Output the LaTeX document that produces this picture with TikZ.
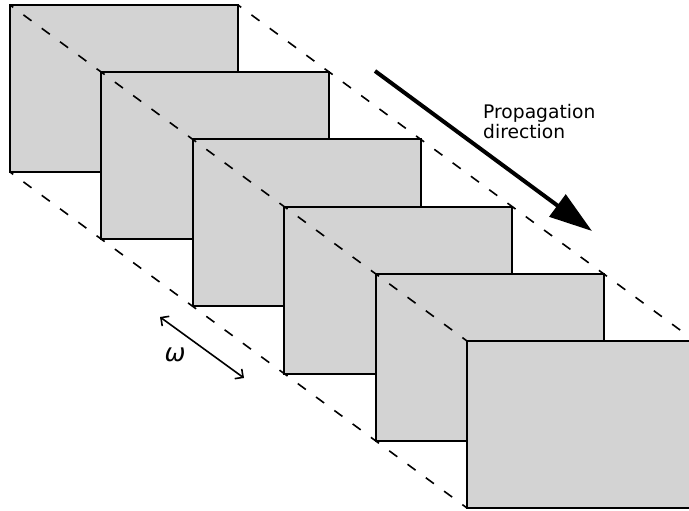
\documentclass[tikz,border=0pt]{standalone}
\usepackage{fontspec}
\setmainfont{DejaVu Sans}
\usetikzlibrary{positioning, calc, arrows.meta}
\definecolor{Dark}{HTML}{000000}
\definecolor{Plane}{HTML}{D3D3D3}
\definecolor{White}{HTML}{FFFFFF}
\tikzset{
    plane/.style={rectangle, draw=Dark, fill=Plane, line width=2pt, minimum width=228pt, minimum height=167pt, inner sep=0pt, outer sep=0pt, anchor=north west},
    guide/.style={draw=Dark, line width=1.6pt, dash pattern=on 10pt off 12.7pt, dash phase=6pt},
    bigarrow/.style={-{Triangle[length=43pt, width=27pt]}, line width=4pt, color=Dark},
    freqarrow/.style={{Straight Barb[length=6pt, width=12pt]}-{Straight Barb[length=6pt, width=12pt]}, line width=1.6pt, color=Dark},
}

\begin{document}
\begin{tikzpicture}[x=1pt, y=-1pt]
        % --- Frame (same size as the page) ---
        \useasboundingbox (0,0) rectangle (689,511);
        \clip (0,0) rectangle (689,511);

        % --- Wave fronts, back to front ---
        \node[plane] (plane1) at (10,5) {};
        \node[plane] (plane2) at (101.4,72.2) {};
        \node[plane] (plane3) at (192.8,139.4) {};
        \node[plane] (plane4) at (284.2,206.6) {};
        \node[plane] (plane5) at (375.6,273.8) {};
        \node[plane] (plane6) at (467,341) {};

        % Guide lines through the corners
        \draw[guide] (plane1.north west) -- (plane6.north west);
        \draw[guide] (plane1.north east) -- (plane6.north east);
        \draw[guide] (plane1.south west) -- (plane6.south west);

        % --- Propagation arrow + label ---
        \coordinate (propstart) at (375,71);
        \coordinate (propend)   at (592,231);
        \draw[bigarrow] (propstart) -- (propend);
        \node[anchor=north west, inner sep=0pt, align=left, font=\fontsize{18.7}{20.5}\selectfont, text=Dark] (proplabel) at (483,104) {Propagation\\direction};

        % --- Spacing between fronts ---
        \coordinate (freqa) at (160,317);
        \coordinate (freqb) at (244,378);
        \draw[freqarrow] (freqa) -- (freqb);
        \node[font=\fontsize{25}{30}\selectfont\itshape, text=Dark] (freqlabel) at (175,355) {ω};
    \end{tikzpicture}
\end{document}
